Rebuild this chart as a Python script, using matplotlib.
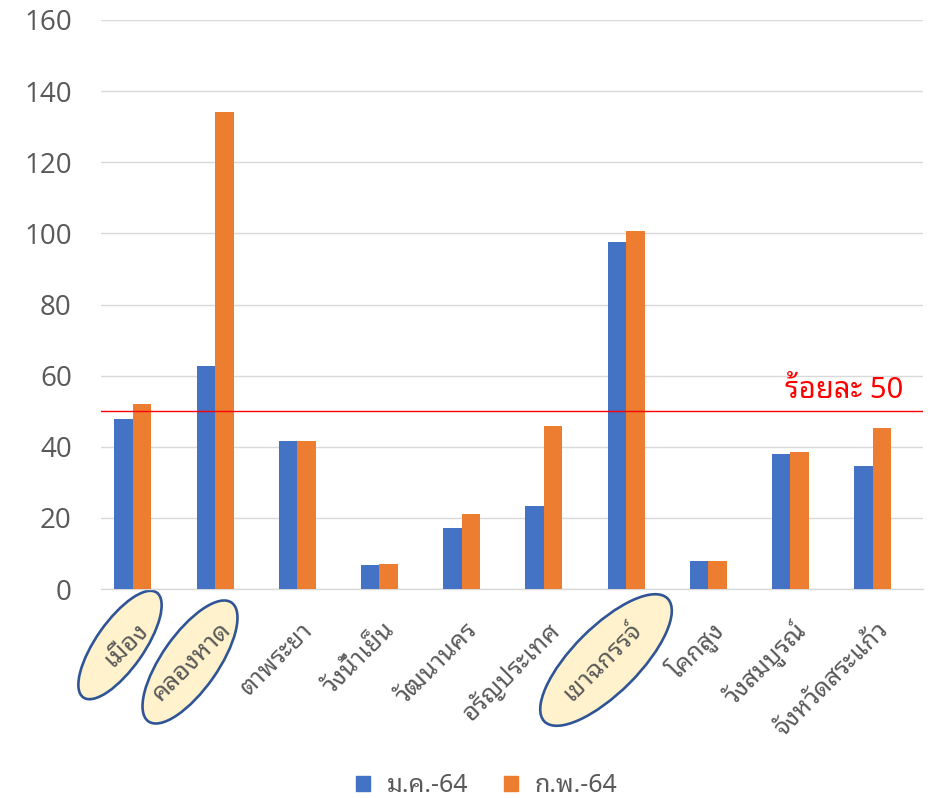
import matplotlib
matplotlib.use("Agg")
import matplotlib.pyplot as plt
from matplotlib import font_manager
from matplotlib.patches import Ellipse
from matplotlib.transforms import Affine2D
import numpy as np

# ---- data ----
categories = ["เมือง", "คลองหาด", "ตาพระยา", "วังน้ำเย็น", "วัฒนานคร",
              "อรัญประเทศ", "เขาฉกรรจ์", "โคกสูง", "วังสมบูรณ์", "จังหวัดสระแก้ว"]
series_names = ["ม.ค.-64", "ก.พ.-64"]
jan_values = [47.8, 62.7, 41.6, 6.7, 17.2, 23.3, 97.6, 7.9, 38.0, 34.6]
feb_values = [51.9, 134.0, 41.7, 6.9, 21.1, 45.8, 100.7, 7.9, 38.5, 45.3]
yticks = [0, 20, 40, 60, 80, 100, 120, 140, 160]
threshold = 50
threshold_label = "ร้อยละ 50"
highlighted = [0, 1, 6]

# ---- fonts ----
available = {f.name for f in font_manager.fontManager.ttflist}
thai_pref = ["Noto Sans Thai Looped", "IBM Plex Sans Thai Looped", "Noto Sans Thai",
             "IBM Plex Sans Thai", "Sarabun", "FreeSerif"]
thai_font = next((n for n in thai_pref if n in available), "DejaVu Sans")
num_font = "Open Sans"
plt.rcParams['font.family'] = [thai_font, 'DejaVu Sans']

GREY = "#595959"
BLUE = "#4472C4"
ORANGE = "#ED7D31"

W, H = 945, 798
fig = plt.figure(figsize=(W / 100, H / 100), dpi=100)
# axes: x 101..923, y 20..589 (pixels from top)
ax = fig.add_axes([101 / W, 1 - 589 / H, (923 - 101) / W, (589 - 20) / H])

x = np.arange(len(categories))
bw = 0.224
ax.bar(x - bw, jan_values, width=bw, color=BLUE, label=series_names[0], zorder=3)
ax.bar(x, feb_values, width=bw, color=ORANGE, label=series_names[1], zorder=3)

ax.set_xlim(-0.5, len(categories) - 0.5)
ax.set_ylim(0, 160)
ax.set_yticks(yticks)
ax.set_yticklabels([str(v) for v in yticks], family=num_font, fontsize=20, color=GREY)
ax.tick_params(axis='y', length=0, pad=21)
ax.tick_params(axis='x', length=0)
ax.grid(axis='y', color="#D9D9D9", linewidth=1.0, zorder=0)
for s in ["top", "right", "left"]:
    ax.spines[s].set_visible(False)
ax.spines["bottom"].set_color("#D9D9D9")
ax.spines["bottom"].set_linewidth(1.0)
ax.set_xticks(x)
ax.set_xticklabels([])

# threshold line
ax.axhline(threshold, color="#FF0000", linewidth=1.0, zorder=4)
ax.text(0.976, threshold + 1.6, threshold_label, transform=ax.get_yaxis_transform(),
        ha="right", va="bottom", color="#FF0000", fontsize=21, fontweight="bold", zorder=5)

# ellipses (pixel coordinates from the top-left corner)
pix = Affine2D().scale(1 / W, 1 / H) + fig.transFigure
ell_specs = [((120, 645), 128, 48, 55), ((190, 662), 145, 56, 55), ((606, 660), 174, 66, 45)]
for (cx, cy), major, minor, ang in ell_specs:
    e = Ellipse((cx, H - cy), width=major, height=minor, angle=ang,
                facecolor="#FFF2CC", edgecolor="#2F5597", linewidth=1.9,
                transform=pix, zorder=1, clip_on=False)
    ax.add_artist(e)

# category labels
for i, name in enumerate(categories):
    ax.text(i + 0.03, -10.5, name, rotation=45, rotation_mode="anchor",
            ha="right", va="center", fontsize=18, color=GREY, zorder=6, clip_on=False)

# legend
handles = [plt.Rectangle((0, 0), 1, 1, color=BLUE), plt.Rectangle((0, 0), 1, 1, color=ORANGE)]
leg = fig.legend(handles, series_names, loc="center", bbox_to_anchor=(487 / W, 1 - 786 / H),
                 ncol=2, frameon=False, fontsize=18, handlelength=0.55, handleheight=0.55,
                 handletextpad=0.7, columnspacing=1.4, labelcolor=GREY)

fig.savefig("out.png", dpi=100)
